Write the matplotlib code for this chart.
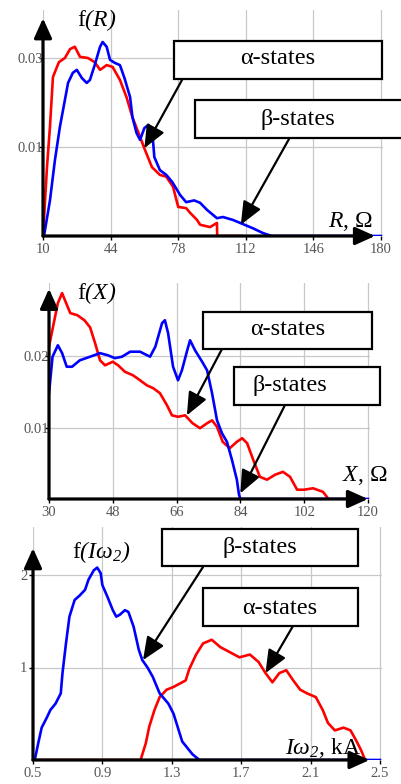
import matplotlib
matplotlib.use('Agg')
import matplotlib.pyplot as plt
from matplotlib.patches import Rectangle

plt.rcParams['font.family'] = ['Liberation Serif', 'DejaVu Serif']
plt.rcParams['mathtext.fontset'] = 'custom'
# everything inside $...$ is italic in this figure (parentheses too)
plt.rcParams['mathtext.rm'] = 'Liberation Serif:italic'
plt.rcParams['mathtext.it'] = 'Liberation Serif:italic'

W, H = 401, 784

# ---- data ----
# panel 1 : f(R)
r_alpha_x = [10, 12, 13.5, 15, 18, 21, 23.6, 26, 28.6, 32.6, 36, 38.7, 42, 45, 48.7, 52, 55, 58.8,
             61.3, 64.8, 68.8, 72, 75.4, 78, 82, 84, 87.5, 89, 94, 97.5, 97.6, 110]
r_alpha_y = [0, .0116, .0184, .0268, .0293, .030, .0315, .0319, .0302, .030, .0293, .028, .0288, .0285,
             .0263, .0234, .020, .0167, .0145, .0116, .0103, .0100, .0083, .0049, .0047, .0039, .0027,
             .0019, .0015, .0022, 0, 0]
r_beta_x = [10.5, 13.5, 16, 18.5, 21, 22.6, 25, 27, 29.6, 32, 33.6, 36, 38.7, 40, 42, 43.7, 46, 48.7,
            51, 53.8, 55, 57, 58.8, 61, 63, 65, 66, 68.8, 72, 75, 79, 82, 86, 89, 92.5, 97.5, 100.5,
            105.6, 110.6, 115.6, 120.6, 125, 180]
r_beta_y = [0, .006, .0128, .0184, .0229, .0258, .0275, .028, .0266, .0258, .0263, .0288, .0319, .0327,
            .0319, .0297, .0292, .0288, .0266, .0234, .020, .0174, .0162, .0182, .0187, .0174, .0133,
            .0111, .0103, .0091, .0069, .0057, .006, .0056, .0044, .003, .0032, .0027, .002, .0013,
            .0005, 0, 0]
r_ticks = [10, 44, 78, 112, 146, 180]
r_yticks = [0.015, 0.03]
r_ylabels = ['0.01', '0.03']

# panel 2 : f(X)
x_alpha_x = [30, 31.1, 32.5, 33.7, 34.5, 36, 38, 40, 41.6, 43, 44.4, 45.8, 48, 49.5, 51.4, 53.7, 55.7,
             57.6, 59.4, 61.3, 63.3, 64.7, 66.4, 68.4, 70.5, 72.6, 74.6, 76, 77.4, 79, 81, 83, 84.5,
             85.9, 87.6, 89.5, 91.5, 93.8, 96, 98, 100, 102, 104.5, 107.3, 108.4]
x_alpha_y = [.0213, .024, .0274, .0288, .0278, .026, .0257, .025, .024, .0218, .0194, .0187, .0192,
             .0187, .0178, .0173, .0166, .0159, .0155, .0148, .0131, .0117, .0115, .0117, .0106, .0099,
             .0106, .011, .0101, .008, .0071, .008, .0085, .0078, .0055, .0031, .0027, .0034, .0038,
             .0031, .0013, .0013, .0015, .001, .0003]
x_beta_x = [30, 31, 32.5, 33.7, 35, 36.5, 38.7, 41.6, 44.4, 46.6, 48.6, 50.6, 52.9, 55.7, 58.5, 60,
            61.9, 62.7, 63.6, 65, 66.4, 67.5, 69, 69.8, 71.2, 73.2, 74.6, 76, 77.4, 78.8, 80.2, 81.6,
            83, 83.6, 84, 120]
x_beta_y = [.0148, .0199, .0215, .0204, .0185, .0185, .0194, .0199, .0204, .0201, .0197, .0199, .0206,
            .0206, .0199, .0213, .0246, .025, .0232, .0185, .0166, .018, .0208, .0222, .0208, .0192,
            .018, .0148, .011, .0092, .008, .0055, .0027, .0006, 0, 0]
x_ticks = [30, 48, 66, 84, 102, 120]
x_yticks = [0.01, 0.02]
x_ylabels = ['0.01', '0.02']

# panel 3 : f(Iw2)
i_alpha_x = [0.5, 1.12, 1.15, 1.17, 1.2, 1.23, 1.27, 1.31, 1.35, 1.38, 1.40, 1.44, 1.48, 1.53, 1.58,
             1.64, 1.69, 1.75, 1.80, 1.84, 1.88, 1.92, 1.96, 2.0, 2.04, 2.08, 2.13, 2.17, 2.2, 2.24,
             2.29, 2.33, 2.36, 2.39, 2.41]
i_alpha_y = [0, 0, .18, .36, .54, .68, .76, .79, .83, .86, .98, 1.14, 1.26, 1.30, 1.22, 1.16, 1.11,
             1.14, 1.06, .94, .84, .94, .97, .86, .76, .72, .68, .54, .40, .32, .35, .32, .22, .11, .02]
i_beta_x = [0.5, 0.51, 0.53, 0.55, 0.58, 0.6, 0.63, 0.66, 0.67, 0.69, 0.71, 0.74, 0.77, 0.80, 0.82,
            0.85, 0.87, 0.89, 0.90, 0.93, 0.96, 0.98, 1.0, 1.03, 1.05, 1.08, 1.11, 1.13, 1.16, 1.19,
            1.23, 1.28, 1.31, 1.34, 1.36, 1.39, 1.42, 1.46, 2.5]
i_beta_y = [0, 0, .18, .35, .46, .54, .61, .72, .94, 1.26, 1.55, 1.73, 1.78, 1.84, 1.95, 2.05, 2.08,
            2.02, 1.89, 1.76, 1.62, 1.55, 1.57, 1.62, 1.60, 1.44, 1.19, 1.08, 1.0, .9, .72, .61, .5,
            .32, .2, .13, .06, 0, 0]
i_ticks = [0.5, 0.9, 1.3, 1.7, 2.1, 2.5]
i_yticks = [1, 2]
i_ylabels = ['1', '2']

fig = plt.figure(figsize=(W / 100, H / 100), dpi=100)


def panel(xa, xb, pxa, pxb, ya, yb, pya, pyb, xlim, ylim):
    # place an axes so that data values land on the given pixel positions
    sx = (pxb - pxa) / (xb - xa)
    sy = (pyb - pya) / (yb - ya)
    left = pxa + (xlim[0] - xa) * sx
    right = pxa + (xlim[1] - xa) * sx
    bot = pya + (ylim[0] - ya) * sy
    top = pya + (ylim[1] - ya) * sy
    ax = fig.add_axes([left / W, 1 - bot / H, (right - left) / W, (bot - top) / H])
    ax.set_xlim(*xlim)
    ax.set_ylim(*ylim)
    for s in ax.spines.values():
        s.set_visible(False)
    ax.grid(True, color='#c8c8c8', lw=0.9)
    ax.set_axisbelow(True)
    ax.tick_params(colors='#555555', labelsize=10.5, length=3, width=1)
    ax.tick_params(axis='x', color='k', pad=2)
    ax.tick_params(axis='y', color='k')
    return ax


def axis_arrows(ax, x0, x_tip, y_tip):
    ap = dict(arrowstyle='-|>,head_length=0.6,head_width=0.27', lw=2.3, color='k',
              mutation_scale=20, shrinkA=0, shrinkB=0)
    ax.annotate('', xy=(x_tip, 0), xytext=(x0, 0), arrowprops=ap, annotation_clip=False, zorder=4)
    ax.annotate('', xy=(x0, y_tip), xytext=(x0, 0), arrowprops=ap, annotation_clip=False, zorder=4)


def label_box(x0, x1, y0, y1, tx, ty, text):
    fig.patches.append(Rectangle((x0, H - y1), x1 - x0, y1 - y0, transform=None,
                                 facecolor='white', edgecolor='k', lw=1.6, zorder=5))
    fig.text(tx / W, 1 - ty / H, text, ha='center', va='center', fontsize=17.5, zorder=6)


def pointer(ax, px, py, tip):
    ax.annotate('', xy=tip, xytext=(px, H - py),
                textcoords='figure pixels', annotation_clip=False, zorder=5,
                arrowprops=dict(arrowstyle='-|>,head_length=0.7,head_width=0.3', lw=1.6, color='k',
                                mutation_scale=20, shrinkA=0, shrinkB=0))


# ---- panel 1 ----
ax1 = panel(10, 180, 43, 381, 0, 0.03, 236, 58, (10, 181), (0, 0.0381))
ax1.plot(r_alpha_x, r_alpha_y, color='#ff0000', lw=1.9, zorder=3)
ax1.plot(r_beta_x, r_beta_y, color='#0000ff', lw=1.9, zorder=3)
ax1.set_xticks(r_ticks)
ax1.set_yticks(r_yticks, r_ylabels)
ax1.tick_params(axis='y', pad=-3)
axis_arrows(ax1, 10, 177, 0.0367)
fig.text(77 / W, 1 - 20 / H, r'f$(R)$', fontsize=17, va='center')
fig.text(328 / W, 1 - 221 / H, r'$R$, Ω', fontsize=17, va='center')
label_box(174, 382, 41, 79, 278, 59, 'α-states')
label_box(195, 410, 100, 138, 298, 119, 'β-states')
pointer(ax1, 182, 80, (61, 0.0148))
pointer(ax1, 289, 139, (109.5, 0.0019))

# ---- panel 2 ----
ax2 = panel(30, 120, 49, 368, 0, 0.02, 499, 356, (30, 120.6), (0, 0.0302))
ax2.plot(x_alpha_x, x_alpha_y, color='#ff0000', lw=1.9, zorder=3)
ax2.plot(x_beta_x, x_beta_y, color='#0000ff', lw=1.9, zorder=3)
ax2.set_xticks(x_ticks)
ax2.set_yticks(x_yticks, x_ylabels)
ax2.tick_params(axis='y', pad=-3)
axis_arrows(ax2, 30, 120, 0.0294)
fig.text(77 / W, 1 - 293 / H, r'f$(X)$', fontsize=17, va='center')
fig.text(342 / W, 1 - 476 / H, r'$X$, Ω', fontsize=17, va='center')
label_box(203, 372, 312, 349, 288, 329, 'α-states')
label_box(234, 380, 367, 405, 290, 385, 'β-states')
pointer(ax2, 222, 349, (68.9, 0.0117))
pointer(ax2, 285, 405, (84, 0.0008))

# ---- panel 3 ----
ax3 = panel(0.5, 2.5, 33, 380, 0, 2, 760, 575, (0.5, 2.51), (0, 2.52))
ax3.plot(i_alpha_x, i_alpha_y, color='#ff0000', lw=1.9, zorder=3)
ax3.plot(i_beta_x, i_beta_y, color='#0000ff', lw=1.9, zorder=3)
ax3.set_xticks(i_ticks, [str(t) for t in i_ticks])
ax3.set_yticks(i_yticks, i_ylabels)
ax3.tick_params(axis='y', pad=1)
axis_arrows(ax3, 0.5, 2.44, 2.29)
fig.text(72 / W, 1 - 552 / H, r'f$(I\omega_2)$', fontsize=17, va='center')
fig.text(285 / W, 1 - 748 / H, r'$I\omega_2$, kA', fontsize=17, va='center')
label_box(162, 358, 529, 566, 260, 548, 'β-states')
label_box(203, 358, 588, 626, 280, 608, 'α-states')
pointer(ax3, 203, 567, (1.134, 1.08))
pointer(ax3, 293, 626, (1.84, 0.94))

fig.savefig('out.png', dpi=100)
